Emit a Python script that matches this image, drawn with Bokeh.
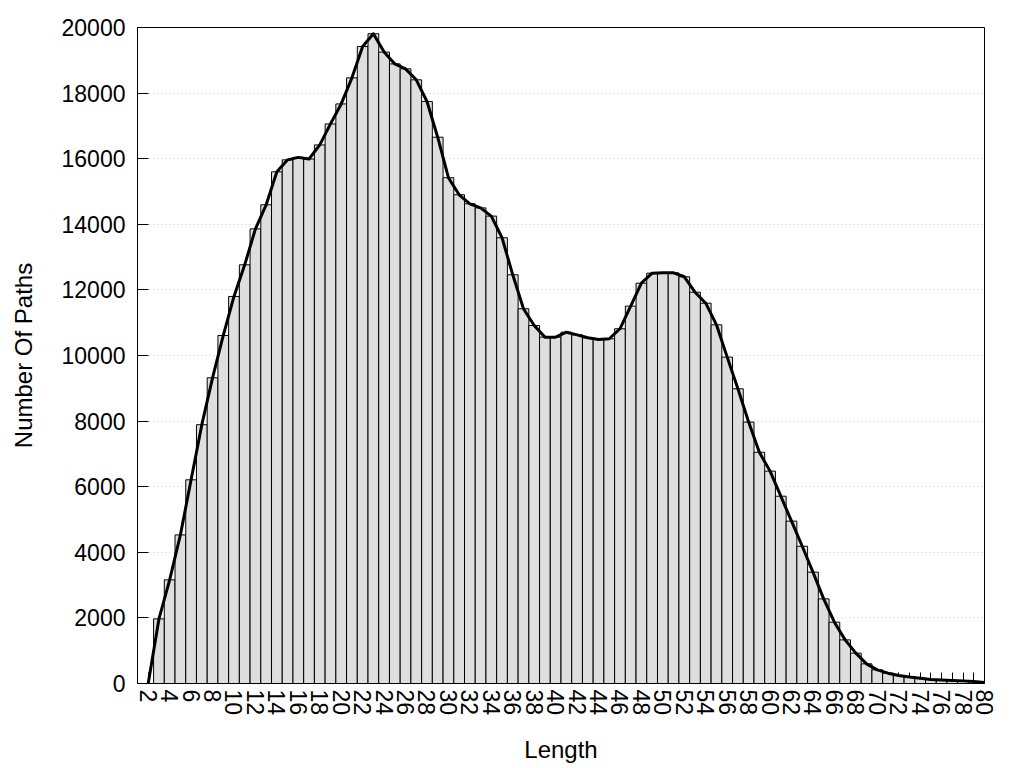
from bokeh.plotting import figure
from bokeh.models import FixedTicker, Range1d, LinearAxis
from bokeh.embed import file_html
from bokeh.resources import INLINE

lengths = list(range(2, 81))
counts = [
    0, 1970, 3160, 4530, 6210, 7890, 9320, 10610, 11800, 12765,
    13860, 14595, 15600, 15965, 16040, 15990, 16420, 17060, 17670, 18465,
    19420, 19810, 19250, 18890, 18740, 18405, 17745, 16655, 15420, 14900,
    14625, 14500, 14250, 13590, 12460, 11425, 10915, 10560, 10560, 10710,
    10630, 10540, 10490, 10510, 10815, 11505, 12205, 12510, 12520, 12520,
    12400, 11930, 11595, 10935, 9950, 8985, 7970, 7050, 6475, 5710,
    4950, 4185, 3395, 2580, 1870, 1330, 925, 600, 415, 315,
    245, 195, 160, 125, 110, 95, 80, 60, 30,
]
y_ticks = list(range(0, 20001, 2000))
x_ticks = list(range(2, 81))
x_labels = {k: (str(k) if k % 2 == 0 else "") for k in x_ticks}

FONT = "Liberation Sans"

p = figure(
    output_backend="svg", toolbar_location=None,
    frame_width=847, frame_height=656,
    min_border_left=137, min_border_right=32, min_border_top=27, min_border_bottom=77,
    x_range=Range1d(1, 80), y_range=Range1d(0, 20000),
)
p.outline_line_color = "black"
p.outline_line_width = 1
p.background_fill_color = "white"

p.vbar(x=lengths, top=counts, width=1.0, bottom=0,
       fill_color="#dedede", line_color="black", line_width=1)
p.line(x=lengths, y=counts, line_color="black", line_width=3, line_join="round")

p.xgrid.visible = False
p.ygrid.ticker = FixedTicker(ticks=y_ticks)
p.ygrid.grid_line_color = "#c8c8c8"
p.ygrid.grid_line_dash = "1 3"
p.ygrid.grid_line_width = 1

# inward x ticks drawn beneath the bars (no labels)
tick_axis = LinearAxis(ticker=FixedTicker(ticks=x_ticks), level="underlay")
tick_axis.axis_line_color = None
tick_axis.major_tick_in = 11
tick_axis.major_tick_out = 0
tick_axis.minor_tick_in = 0
tick_axis.minor_tick_out = 0
tick_axis.major_tick_line_color = "black"
tick_axis.major_label_text_font_size = "0px"
tick_axis.major_label_standoff = 0
tick_axis.major_label_overrides = {k: "" for k in x_ticks}

xa = p.xaxis[0]
xa.ticker = FixedTicker(ticks=x_ticks)
xa.major_label_overrides = x_labels
xa.major_label_orientation = "vertical"
xa.major_tick_in = 0
xa.major_tick_out = 0
p.below = [tick_axis, xa]

ya = p.yaxis[0]
ya.ticker = FixedTicker(ticks=y_ticks)
ya.major_tick_in = 11
ya.major_tick_out = 0

for ax in (xa, ya):
    ax.axis_line_color = "black"
    ax.minor_tick_in = 0
    ax.minor_tick_out = 0
    ax.major_tick_line_color = "black"
    ax.major_label_text_font = FONT
    ax.major_label_text_font_size = "23px"
    ax.major_label_text_color = "black"
    ax.axis_label_text_font = FONT
    ax.axis_label_text_font_size = "24px"
    ax.axis_label_text_font_style = "normal"
    ax.axis_label_text_color = "black"

xa.axis_label = "Length"
ya.axis_label = "Number Of Paths"
xa.major_label_standoff = 6
ya.major_label_standoff = 12
xa.axis_label_standoff = 18
ya.axis_label_standoff = 22

open("out.html", "w").write(file_html(p, INLINE))
